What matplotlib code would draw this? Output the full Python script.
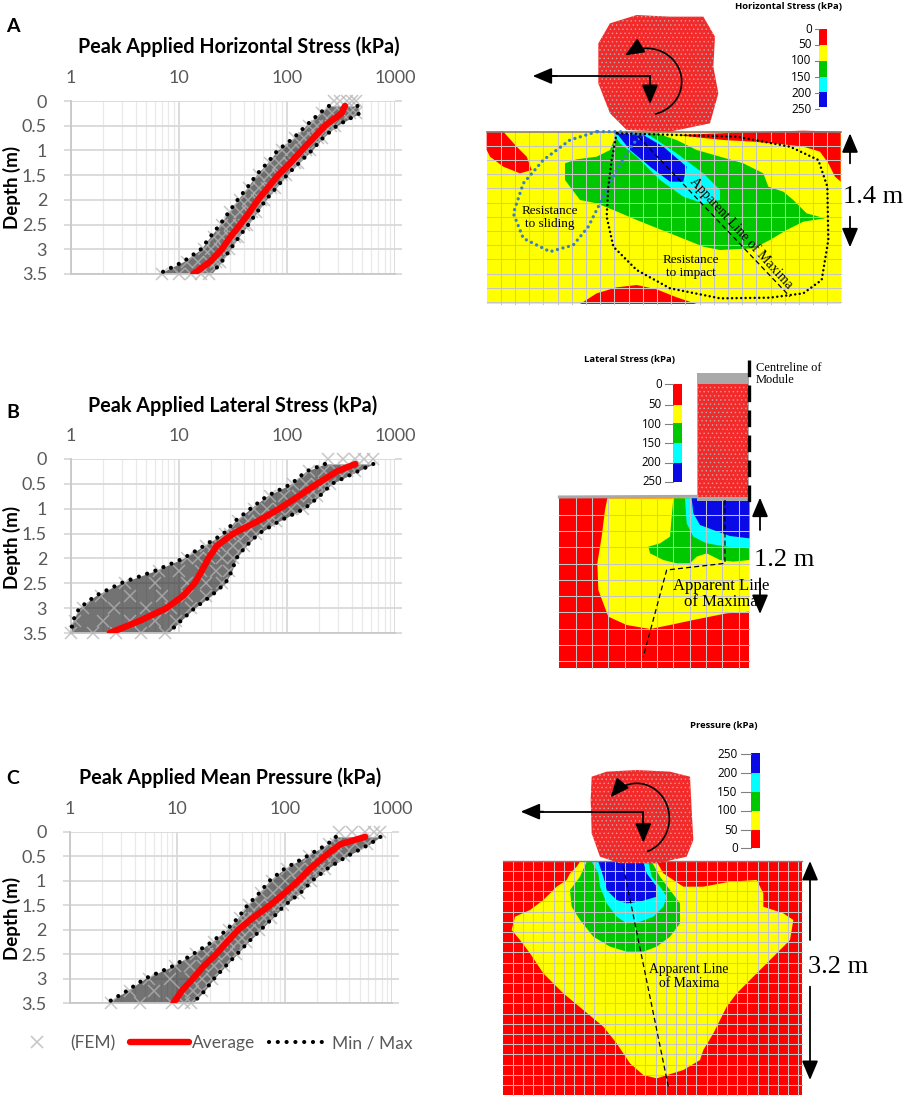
import numpy as np
import matplotlib
matplotlib.use('Agg')
import matplotlib.pyplot as plt
from matplotlib.patches import Polygon, Rectangle
from matplotlib.lines import Line2D
from matplotlib.ticker import FixedLocator, NullFormatter

plt.rcParams['hatch.linewidth'] = 0.5

# ---------------- data ----------------
depth = [0.1, 0.25, 0.5, 0.75, 1.0, 1.25, 1.5, 1.75, 2.0, 2.25, 2.5, 2.75, 3.0, 3.25, 3.5]
depth_fem = [0.0, 0.25, 0.5, 0.75, 1.0, 1.25, 1.5, 1.75, 2.0, 2.25, 2.5, 2.75, 3.0, 3.25, 3.5]

avg_A = [345, 320, 225, 176, 137, 108, 83, 67, 54, 45, 37, 30, 25, 19.5, 13.6]
min_A = [245, 200, 150, 115, 82, 66, 52, 43, 35, 29, 24, 19.5, 16, 11, 6.5]
max_A = [450, 470, 290, 215, 170, 130, 100, 80, 64, 53, 44, 36, 30, 25, 20]
fem_A = [[270, 310, 360, 400, 440], [210, 260, 320, 380, 440], [160, 190, 225, 255, 280],
         [120, 145, 175, 195, 210], [90, 110, 135, 150, 165], [70, 85, 105, 118, 128],
         [55, 68, 82, 90, 98], [45, 55, 66, 72, 78], [37, 44, 53, 58, 62], [30, 37, 44, 48, 52],
         [25, 30, 36, 40, 43], [21, 25, 30, 33, 35], [17, 20, 24, 27, 29], [12, 15, 19, 22, 24],
         [7, 10, 13, 16, 19]]

avg_B = [430, 290, 190, 128, 85, 54, 32, 22.4, 18.8, 16.3, 14, 11, 7.7, 4.4, 2.3]
min_B = [225, 150, 110, 65, 46, 33, 26, 17, 11, 6, 2.9, 1.7, 1.2, 1.05, 1.0]
max_B = [630, 450, 260, 200, 145, 85, 55, 42, 34, 31, 27, 20, 14, 10.5, 8]
fem_B = [[240, 330, 430, 520, 620], [160, 220, 290, 360, 430], [115, 150, 190, 220, 250],
         [70, 95, 128, 160, 190], [50, 65, 85, 110, 140], [35, 44, 54, 68, 80],
         [27, 30, 33, 42, 52], [18, 21, 24, 32, 40], [12, 15, 19, 25, 32], [6.5, 10, 16, 22, 29],
         [3.2, 6, 12, 18, 25], [1.9, 3.5, 7, 12, 18], [1.3, 2.5, 5, 8.5, 13], [1.1, 2, 3.5, 6, 9.5],
         [1.0, 1.6, 2.6, 4.5, 7.5]]

avg_C = [563, 330, 235, 173, 134, 100, 73, 51, 37, 29, 23, 17.5, 14, 11, 9.2]
min_C = [300, 250, 160, 100, 72, 58, 45, 37, 29, 21, 14, 9, 5, 3.4, 2.2]
max_C = [780, 620, 380, 250, 180, 140, 100, 78, 60, 46, 36, 28, 22, 18, 14]
fem_C = [[320, 420, 560, 680, 780], [260, 300, 350, 450, 580], [170, 200, 240, 290, 360],
         [105, 135, 175, 210, 240], [76, 100, 132, 155, 175], [60, 78, 100, 120, 135],
         [47, 58, 73, 86, 97], [38, 44, 52, 64, 75], [30, 34, 38, 48, 58], [22, 26, 30, 37, 44],
         [15, 19, 23, 29, 35], [9.5, 13, 17.5, 22, 27], [5.5, 8.5, 13.5, 17, 21], [3.6, 6, 11, 14, 17],
         [2.4, 4.5, 9, 11.5, 13.5]]

titles = ['Peak Applied Horizontal Stress (kPa)', 'Peak Applied Lateral Stress (kPa)',
          'Peak Applied Mean Pressure (kPa)']
panel_letters = ['A', 'B', 'C']
xtick_vals = [1, 10, 100, 1000]
xtick_labels = ['1', '10', '100', '1000']
ytick_vals = [0, 0.5, 1, 1.5, 2, 2.5, 3, 3.5]
ytick_labels = ['0', '0.5', '1', '1.5', '2', '2.5', '3', '3.5']

cbar_labels_A = ['0', '50', '100', '150', '200', '250']
cbar_labels_C = ['250', '200', '150', '100', '50', '0']

# ---------------- figure ----------------
W, H = 906, 1098
fig = plt.figure(figsize=(W / 100, H / 100), dpi=100)
ov = fig.add_axes([0, 0, 1, 1])
ov.set_xlim(0, W)
ov.set_ylim(H, 0)
ov.axis('off')

SANS = ['Lato', 'DejaVu Sans']
SERIF = ['Liberation Serif', 'DejaVu Serif']
GT = '#595959'

RED, YEL, GRN, CYN, BLU = '#ff0000', '#ffff00', '#00c800', '#00ffff', '#0a0ae6'


def chart(rect, avg, mn, mx, fem, title, letter, title_x, title_y, letter_y, depth_y):
    x0, x1, yt, yb = rect
    ax = fig.add_axes([x0 / W, 1 - yb / H, (x1 - x0) / W, (yb - yt) / H])
    ax.set_xscale('log')
    ax.set_xlim(1, 1000)
    ax.set_ylim(3.5, 0)
    ax.xaxis.tick_top()
    ax.set_xticks(xtick_vals)
    ax.set_xticklabels(xtick_labels)
    ax.xaxis.set_minor_locator(FixedLocator([m * 10 ** e for e in range(3) for m in range(2, 10)]))
    ax.xaxis.set_minor_formatter(NullFormatter())
    ax.set_yticks(ytick_vals)
    ax.set_yticklabels(ytick_labels)
    ax.tick_params(which='both', length=0)
    ax.tick_params(axis='x', pad=11, labelsize=13, labelcolor=GT)
    ax.tick_params(axis='y', pad=12, labelsize=13, labelcolor=GT)
    ax.tick_params(axis='y', which='major', right=True, length=5, color='#d9d9d9', width=1.3)
    for lab in ax.get_xticklabels() + ax.get_yticklabels():
        lab.set_family(SANS)
    ax.grid(True, which='major', color='#d9d9d9', lw=1.3)
    ax.grid(True, which='minor', axis='x', color='#e9e9e9', lw=0.9)
    ax.set_axisbelow(True)
    for s in ['top', 'right']:
        ax.spines[s].set_visible(False)
    for s in ['left', 'bottom']:
        ax.spines[s].set_color('#c8c8c8')
        ax.spines[s].set_linewidth(1.3)
    # FEM cloud
    ax.fill_betweenx(depth, mn, mx, color='#2a2a2a', alpha=0.66, lw=0, zorder=2)
    xs = np.concatenate([np.array(r, float) for r in fem])
    ys = np.repeat(depth_fem, [len(r) for r in fem])
    ax.plot(xs, ys, 'x', color='#b5b5b5', ms=8, mew=1.1, alpha=0.75, zorder=3, clip_on=False)
    # min / max
    for arr in (mn, mx):
        ax.plot(arr, depth, color='black', lw=3.0, linestyle=(0, (0.01, 2.1)),
                dash_capstyle='round', zorder=4, clip_on=False)
    # average
    ax.plot(avg, depth, color='#ff0000', lw=4.6, solid_capstyle='round', zorder=5)
    fig.text(title_x / W, 1 - title_y / H, title, ha='center', va='center', fontsize=14.2,
             fontweight='bold', family=SANS, color='black')
    fig.text(13 / W, 1 - letter_y / H, letter, ha='center', va='center', fontsize=14,
             fontweight='bold', family=SANS, color='black')
    fig.text(12 / W, 1 - depth_y / H, 'Depth (m)', ha='center', va='center', rotation=90,
             fontsize=13.5, fontweight='bold', family=SANS, color='black')
    return ax


chart((70.7, 395, 101, 274), avg_A, min_A, max_A, fem_A, titles[0], panel_letters[0], 239, 47, 27, 187)
chart((70.7, 395, 459, 633), avg_B, min_B, max_B, fem_B, titles[1], panel_letters[1], 233, 406, 412, 547)
chart((70, 392, 832, 1003), avg_C, min_C, max_C, fem_C, titles[2], panel_letters[2], 230, 778, 778, 918)

handles = [Line2D([], [], marker='x', ls='none', color='#c8c8c8', ms=9, mew=1.2),
           Line2D([], [], color='#ff0000', lw=4.6, solid_capstyle='round'),
           Line2D([], [], color='black', lw=3.0, linestyle=(0, (0.01, 2.1)), dash_capstyle='round')]
fig.legend(handles, ['(FEM)', 'Average', 'Min / Max'], ncol=3, frameon=False, loc='center',
           bbox_to_anchor=(210 / W, 1 - 1043 / H), prop={'family': SANS, 'size': 12.5},
           labelcolor=GT, handlelength=3.4, handletextpad=0.2, columnspacing=0.8)


# ---------------- right-hand FEM illustrations ----------------
def P(pts, off):
    return [(off[0] + x / 3, off[1] + y / 3) for x, y in pts]


def poly(pts, off, **kw):
    ov.add_patch(Polygon(P(pts, off), closed=True, **kw))


def mesh(off, x0, y0, x1, y1, step):
    X0, Y0 = off[0] + x0 / 3, off[1] + y0 / 3
    X1, Y1 = off[0] + x1 / 3, off[1] + y1 / 3
    for x in np.arange(X0 + step, X1, step):
        ov.plot([x, x], [Y0, Y1], color='#c4c4c4', lw=0.75, zorder=5)
    for y in np.arange(Y0 + step, Y1, step):
        ov.plot([X0, X1], [y, y], color='#c4c4c4', lw=0.75, zorder=5)


def arrow(off, a, b, ms=13):
    ov.annotate('', xy=(off[0] + b[0] / 3, off[1] + b[1] / 3), xytext=(off[0] + a[0] / 3, off[1] + a[1] / 3),
                arrowprops=dict(arrowstyle='-|>,head_length=0.9,head_width=0.38', color='black', lw=1.3,
                                mutation_scale=ms, shrinkA=0, shrinkB=0), zorder=12)


def arc(off, c, rx, ry, t0, t1):
    t = np.radians(np.linspace(t0, t1, 80))
    xs = off[0] + (c[0] + rx * np.cos(t)) / 3
    ys = off[1] + (c[1] - ry * np.sin(t)) / 3
    ov.plot(xs[:-4], ys[:-4], color='black', lw=1.2, zorder=12)
    ov.annotate('', xy=(xs[-1], ys[-1]), xytext=(xs[-5], ys[-5]),
                arrowprops=dict(arrowstyle='-|>,head_length=0.9,head_width=0.38', color='black', lw=1.2,
                                mutation_scale=13, shrinkA=0, shrinkB=0), zorder=12)


def cbar(off, x0, x1, ys, colors, labels, lab_x, lab_ys, title, tpos, fs=8.5):
    for i, c in enumerate(colors):
        ov.add_patch(Rectangle((off[0] + x0 / 3, off[1] + ys[i] / 3), (x1 - x0) / 3, (ys[i + 1] - ys[i]) / 3,
                               facecolor=c, edgecolor='none', zorder=6))
    for lab, y in zip(labels, lab_ys):
        ov.text(off[0] + lab_x / 3, off[1] + y / 3, lab, ha='right', va='center', fontsize=fs,
                family=['Open Sans', 'DejaVu Sans'], color='black', zorder=7)
        ov.plot([off[0] + lab_x / 3 + 3, off[0] + x0 / 3], [off[1] + y / 3] * 2, color='#808080', lw=0.8, zorder=7)
    ov.text(off[0] + tpos[0] / 3, off[1] + tpos[1] / 3, title, ha='center', va='center', fontsize=6.8,
            fontweight='bold', family=['Open Sans', 'DejaVu Sans'], color='black', zorder=7)


def block(pts, off):
    ov.add_patch(Polygon(P(pts, off), closed=True, facecolor='#f42a2a', edgecolor='#c0a8a8',
                         hatch='....', lw=0, zorder=9))


# ---- Panel A (horizontal stress) ----
oA = (470, 0)
ov.add_patch(Rectangle((oA[0] + 50 / 3, 395 / 3), (1112 - 50) / 3, (912 - 395) / 3, facecolor=YEL,
                       edgecolor='none', zorder=1))
A_red_tl = [(50, 395), (100, 395), (140, 440), (170, 470), (185, 510), (150, 520), (100, 500), (60, 470), (50, 450)]
A_red_tr = [(620, 405), (800, 398), (1000, 392), (1112, 395), (1112, 545), (1095, 530), (1075, 490),
            (1050, 455), (1000, 440), (930, 432), (850, 425), (760, 420), (690, 413)]
A_red_b = [(330, 912), (380, 880), (440, 862), (500, 855), (560, 868), (620, 892), (680, 912)]
A_grn = [(285, 490), (320, 478), (380, 470), (420, 450), (440, 400), (560, 400), (620, 420), (680, 450),
         (750, 470), (820, 490), (880, 520), (895, 560), (940, 575), (970, 600), (1010, 640), (1065, 655),
         (1000, 665), (950, 690), (900, 720), (850, 745), (750, 750), (700, 740), (600, 700), (500, 660),
         (430, 630), (380, 610), (330, 600), (285, 540)]
A_cyn = [(430, 400), (530, 400), (620, 460), (700, 520), (750, 570), (750, 600), (700, 610), (640, 590),
         (570, 540), (500, 470), (450, 430)]
A_blu = [(440, 400), (520, 405), (580, 440), (650, 500), (640, 545), (600, 545), (540, 500), (480, 450)]
for pts, c in [(A_red_tl, RED), (A_red_tr, RED), (A_red_b, RED), (A_grn, GRN), (A_cyn, CYN), (A_blu, BLU)]:
    poly(pts, oA, facecolor=c, edgecolor='none', zorder=2)
mesh(oA, 50, 395, 1112, 912, 14.2)
ov.plot([oA[0] + 50 / 3, oA[0] + 1112 / 3], [395 / 3, 395 / 3], color='#8c7b7b', lw=1.2, zorder=6)
A_blue_loop = [(380, 395), (300, 420), (220, 480), (160, 550), (130, 640), (160, 715), (240, 755), (310, 735),
               (355, 680), (400, 590), (440, 510), (490, 430), (520, 405), (450, 395), (380, 395)]
A_black_loop = [(440, 400), (425, 480), (415, 560), (410, 650), (430, 740), (500, 810), (600, 865), (750, 895),
                (900, 893), (1000, 880), (1055, 840), (1075, 720), (1072, 560), (1045, 480), (960, 440),
                (800, 410), (620, 405), (440, 400)]
bl = np.array(P(A_blue_loop, oA))
ov.plot(bl[:, 0], bl[:, 1], color='#3d7fc4', lw=2.4, linestyle=(0, (0.01, 1.7)), dash_capstyle='round', zorder=8)
kl = np.array(P(A_black_loop, oA))
ov.plot(kl[:, 0], kl[:, 1], color='black', lw=1.8, linestyle=(0, (0.01, 1.8)), dash_capstyle='round', zorder=8)
dl = np.array(P([(505, 410), (960, 890)], oA))
ov.plot(dl[:, 0], dl[:, 1], color='black', lw=0.9, linestyle=(0, (4, 2.5)), zorder=8)
ov.text(oA[0] + 800 / 3, 712 / 3, 'Apparent Line of Maxima', rotation=-47.5, rotation_mode='anchor',
        ha='center', va='bottom', fontsize=10, family=SERIF, zorder=10)
ov.text(oA[0] + 240 / 3, 652 / 3, 'Resistance\nto sliding', ha='center', va='center', fontsize=9.5,
        family=SERIF, linespacing=1.15, zorder=10)
ov.text(oA[0] + 662 / 3, 800 / 3, 'Resistance\nto impact', ha='center', va='center', fontsize=9.5,
        family=SERIF, linespacing=1.15, zorder=10)
ov.text(oA[0] + 1210 / 3, 590 / 3, '1.4 m', ha='center', va='center', fontsize=19, family=SERIF, zorder=10)
arrow(oA, (1140, 490), (1140, 400))
arrow(oA, (1140, 650), (1140, 742))
block([(385, 130), (420, 70), (500, 45), (600, 50), (700, 50), (735, 110), (730, 200), (745, 280), (720, 370),
       (600, 395), (470, 390), (420, 340), (385, 250), (385, 180)], oA)
ov.plot([oA[0] + 540 / 3, oA[0] + 235 / 3], [228 / 3, 228 / 3], color='black', lw=1.3, zorder=12)
arrow(oA, (260, 228), (188, 228))
ov.plot([oA[0] + 540 / 3, oA[0] + 540 / 3], [228 / 3, 265 / 3], color='black', lw=1.3, zorder=12)
arrow(oA, (540, 255), (540, 312))
arc(oA, (530, 245), 105, 100, -75, 128)
cbar(oA, 1048, 1072, [88, 135, 183, 230, 277, 320], [RED, YEL, GRN, CYN, BLU], cbar_labels_A, 1025,
     [88, 135, 183, 232, 280, 328], 'Horizontal Stress (kPa)', (955, 20))

# ---- Panel B (lateral stress) ----
oB = (520, 330)
ov.add_patch(Rectangle((oB[0] + 118 / 3, oB[1] + 505 / 3), (688 - 118) / 3, (1015 - 505) / 3,
                       facecolor=RED, edgecolor='none', zorder=1))
B_yel = [(262, 505), (688, 505), (688, 845), (620, 850), (520, 870), (450, 885), (390, 897), (320, 885),
         (265, 860), (235, 780), (232, 700), (245, 620), (255, 540)]
B_grn = [(460, 505), (688, 505), (688, 690), (640, 695), (600, 690), (560, 670), (530, 680), (510, 700),
         (470, 700), (430, 690), (390, 670), (385, 650), (420, 640), (450, 620), (455, 560)]
B_cyn = [(495, 505), (688, 505), (688, 655), (620, 650), (560, 640), (520, 620), (500, 580)]
B_blu = [(515, 505), (688, 505), (688, 625), (630, 618), (580, 600), (540, 585), (520, 550)]
for pts, c in [(B_yel, YEL), (B_grn, GRN), (B_cyn, CYN), (B_blu, BLU)]:
    poly(pts, oB, facecolor=c, edgecolor='none', zorder=2)
mesh(oB, 118, 505, 688, 1015, 16.3)
ov.plot([oB[0] + 118 / 3, oB[0] + 535 / 3], [oB[1] + 501 / 3, oB[1] + 499 / 3], color='#a8a8a8', lw=2.2, zorder=6)
ov.add_patch(Rectangle((oB[0] + 530 / 3, oB[1] + 128 / 3), (688 - 530) / 3, (512 - 128) / 3,
                       facecolor='#a9a9a9', edgecolor='none', zorder=8))
ov.add_patch(Rectangle((oB[0] + 535 / 3, oB[1] + 162 / 3), (685 - 535) / 3, (500 - 162) / 3,
                       facecolor='#f42a2a', edgecolor='#c0a8a8', hatch='....', lw=0, zorder=9))
ov.plot([oB[0] + 688 / 3] * 2, [oB[1] + 90 / 3, oB[1] + 525 / 3], color='black', lw=2.4,
        linestyle=(0, (5, 2.5)), zorder=10)
ov.text(oB[0] + 708 / 3, oB[1] + 132 / 3, 'Centreline of\nModule', ha='left', va='center', fontsize=9,
        family=SERIF, linespacing=1.1, zorder=10)
bd = np.array(P([(615, 510), (615, 700), (440, 720), (370, 980)], oB))
ov.plot(bd[:, 0], bd[:, 1], color='black', lw=0.9, linestyle=(0, (4, 2.5)), zorder=8)
ov.text(oB[0] + 603 / 3, oB[1] + 792 / 3, 'Apparent Line\nof Maxima', ha='center', va='center', fontsize=12,
        family=SERIF, linespacing=1.05, zorder=10)
ov.text(oB[0] + 792 / 3, oB[1] + 690 / 3, '1.2 m', ha='center', va='center', fontsize=19, family=SERIF, zorder=10)
arrow(oB, (720, 600), (720, 503))
arrow(oB, (720, 745), (720, 852))
cbar(oB, 458, 487, [163, 225, 280, 340, 398, 455], [RED, YEL, GRN, CYN, BLU], cbar_labels_A, 425,
     [163, 225, 283, 340, 398, 455], 'Lateral Stress (kPa)', (330, 88), fs=8.3)

# ---- Panel C (pressure) ----
oC = (470, 700)
ov.add_patch(Rectangle((oC[0] + 98 / 3, oC[1] + 482 / 3), (995 - 98) / 3, (1185 - 482) / 3,
                       facecolor=RED, edgecolor='none', zorder=1))
C_yel = [(330, 485), (560, 485), (580, 520), (640, 560), (700, 560), (780, 545), (860, 540), (880, 580),
         (880, 620), (940, 640), (970, 660), (960, 720), (900, 780), (850, 830), (800, 880), (770, 920),
         (750, 960), (730, 1000), (700, 1050), (690, 1080), (640, 1110), (560, 1135), (520, 1125), (480, 1090),
         (440, 1030), (400, 980), (340, 930), (280, 880), (220, 820), (180, 760), (150, 720), (125, 690),
         (135, 650), (180, 630), (220, 600), (260, 560), (290, 540), (300, 520), (320, 500)]
C_grn = [(350, 485), (545, 485), (570, 530), (600, 570), (630, 610), (630, 670), (600, 710), (560, 740),
         (520, 755), (470, 755), (420, 740), (370, 710), (330, 660), (305, 620), (300, 570), (330, 530)]
C_cyn = [(365, 485), (535, 485), (545, 530), (570, 560), (590, 590), (580, 620), (550, 650), (510, 665),
         (470, 670), (440, 650), (410, 610), (390, 560), (385, 520)]
C_blu = [(385, 485), (520, 485), (530, 520), (560, 560), (560, 590), (510, 605), (470, 610), (440, 600),
         (410, 570), (400, 530)]
for pts, c in [(C_yel, YEL), (C_grn, GRN), (C_cyn, CYN), (C_blu, BLU)]:
    poly(pts, oC, facecolor=c, edgecolor='none', zorder=2)
mesh(oC, 98, 482, 995, 1185, 10.2)
ov.plot([oC[0] + 98 / 3, oC[0] + 995 / 3], [oC[1] + 483 / 3] * 2, color='#8c7b7b', lw=1.0, zorder=6)
cd = np.array(P([(460, 500), (595, 1160)], oC))
ov.plot(cd[:, 0], cd[:, 1], color='black', lw=0.9, linestyle=(0, (4, 2.5)), zorder=8)
ov.text(oC[0] + 657 / 3, oC[1] + 830 / 3, 'Apparent Line\nof Maxima', ha='center', va='center', fontsize=9.8,
        family=SERIF, linespacing=1.05, zorder=10)
ov.text(oC[0] + 1105 / 3, oC[1] + 800 / 3, '3.2 m', ha='center', va='center', fontsize=19, family=SERIF, zorder=10)
arrow(oC, (1020, 720), (1020, 483))
arrow(oC, (1020, 860), (1020, 1140))
block([(365, 230), (410, 215), (500, 210), (600, 215), (660, 230), (665, 330), (670, 420), (650, 470),
       (560, 490), (450, 490), (390, 470), (365, 400), (362, 300)], oC)
ov.plot([oC[0] + 520 / 3, oC[0] + 200 / 3], [oC[1] + 335 / 3] * 2, color='black', lw=1.3, zorder=12)
arrow(oC, (220, 335), (152, 335))
ov.plot([oC[0] + 520 / 3] * 2, [oC[1] + 335 / 3, oC[1] + 370 / 3], color='black', lw=1.3, zorder=12)
arrow(oC, (520, 365), (520, 428))
arc(oC, (500, 355), 98, 105, -70, 143)
cbar(oC, 843, 870, [160, 218, 275, 332, 390, 445], [BLU, CYN, GRN, YEL, RED], cbar_labels_C, 803,
     [163, 220, 277, 333, 390, 445], 'Pressure (kPa)', (760, 75))

fig.savefig('out.png', dpi=100)
